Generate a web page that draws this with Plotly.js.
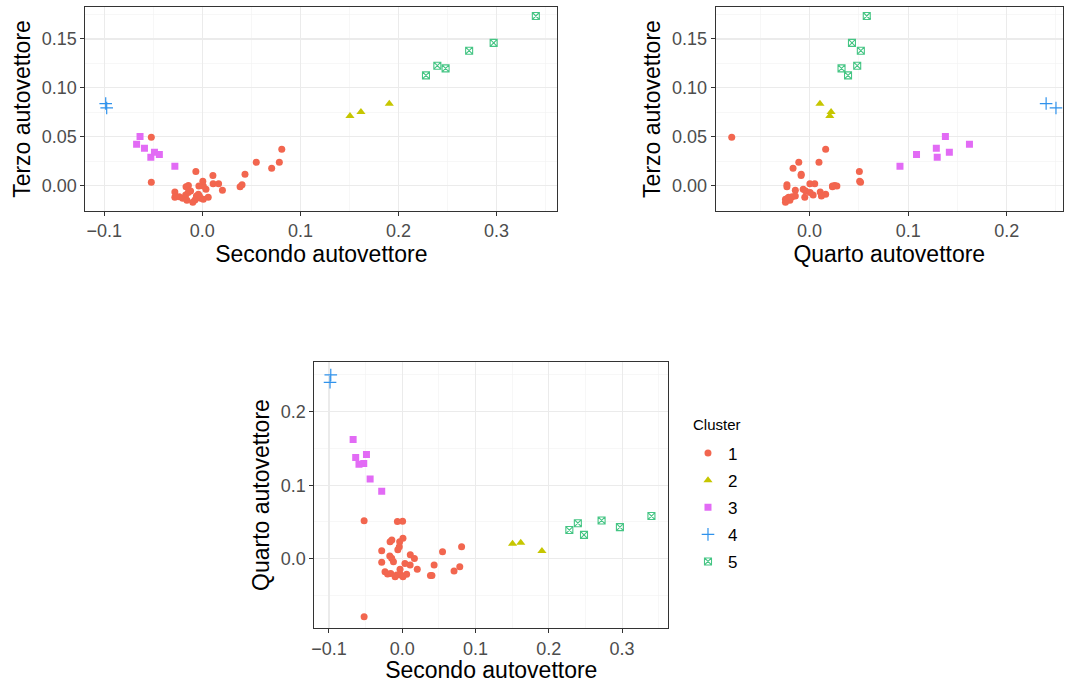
<!DOCTYPE html>
<html>
<head>
<meta charset="utf-8">
<script src="https://cdn.plot.ly/plotly-3.0.1.min.js"></script>
<style>html,body{margin:0;padding:0;background:#fff;}#chart{width:1065px;height:683px;}</style>
</head>
<body>
<div id="chart"></div>
<script>
// Cluster 1
const sec1 = [-0.052, -0.052, 0.081, 0.055, 0.0785, 0.0707, 0.0435, 0.0405, 0.0385, -0.0066, 0.0005, 0.0108, 0.0110, 0.0166, 0.0205, 0.0037,
  -0.028, -0.028, -0.0235, -0.020, -0.0142, -0.0166, -0.0120, -0.0170, -0.0144, -0.0157,
  0.0010, -0.0035, -0.0040, -0.0060, -0.0030, 0.0060, -0.0075, -0.0018, 0.0010, -0.0097];
const ter1 = [0.0494, 0.0034, 0.0372, 0.0239, 0.0239, 0.0177, 0.0116, 0.0010, -0.0010, 0.0145, 0.0045, 0.0105, 0.0020, 0.0020, -0.0048, -0.0036,
  -0.0065, -0.0119, -0.0112, -0.0129, 0.0003, -0.0010, -0.0054, -0.0095, -0.0071, -0.0150,
  -0.0003, -0.0004, -0.0088, -0.0105, -0.0105, -0.0119, -0.0146, -0.0129, -0.0139, -0.0170];
const qua1 = [-0.079, 0.0517, 0.0163, 0.0095, -0.011, -0.0168, -0.0085, -0.0230, -0.0230, 0.0505, 0.0508, -0.0086, 0.0052, 0.0003, -0.0145, -0.0065,
  0.0108, -0.0049, -0.0177, -0.0209, 0.0255, 0.0232, -0.0040, 0.0036, 0.0005, -0.0200,
  0.0277, 0.0232, 0.0163, 0.0120, -0.0145, -0.0213, -0.0222, -0.0222, -0.0245, -0.0245];
// Cluster 2
const sec2 = [0.1505, 0.1617, 0.1906];
const ter2 = [0.0712, 0.0753, 0.0838];
const qua2 = [0.0205, 0.0218, 0.0105];
// Cluster 3
const sec3 = [-0.0670, -0.0635, -0.0590, -0.0488, -0.0438, -0.0525, -0.0280];
const ter3 = [0.0423, 0.0504, 0.0382, 0.0341, 0.0320, 0.0290, 0.0198];
const qua3 = [0.1622, 0.1378, 0.1286, 0.1418, 0.1085, 0.1295, 0.0917];
// Cluster 4
const sec4 = [-0.0985, -0.0975];
const ter4 = [0.0840, 0.0795];
const qua4 = [0.2400, 0.2500];
// Cluster 5
const sec5 = [0.340, 0.297, 0.272, 0.2396, 0.248, 0.228];
const ter5 = [0.1735, 0.146, 0.138, 0.1227, 0.120, 0.1128];
const qua5 = [0.058, 0.043, 0.052, 0.0483, 0.0324, 0.039];

const clusterNames = ['1', '2', '3', '4', '5'];
const secondo = [sec1, sec2, sec3, sec4, sec5];
const terzo = [ter1, ter2, ter3, ter4, ter5];
const quarto = [qua1, qua2, qua3, qua4, qua5];

const colors = ['#F2664F', '#C6C600', '#E26BF5', '#2F92EC', '#45C584'];
const markers = [
  {symbol: 'circle', size: 7},
  {symbol: 'triangle-up', size: 8},
  {symbol: 'square', size: 7},
  {symbol: 'cross-thin-open', size: 9, line: {width: 1.2}},
  {symbol: 'square-x-open', size: 7, line: {width: 1.1}}
];

const traces = [];
const panels = [
  {xs: secondo, ys: terzo, xa: 'x', ya: 'y'},
  {xs: quarto, ys: terzo, xa: 'x2', ya: 'y2'},
  {xs: secondo, ys: quarto, xa: 'x3', ya: 'y3'}
];
panels.forEach((p, pi) => {
  for (let c = 0; c < 5; c++) {
    const m = Object.assign({color: colors[c]}, markers[c]);
    if (m.line) m.line = Object.assign({color: colors[c]}, m.line);
    traces.push({
      type: 'scatter', mode: 'markers',
      x: p.xs[c], y: p.ys[c], xaxis: p.xa, yaxis: p.ya,
      name: clusterNames[c], legendgroup: clusterNames[c],
      showlegend: pi === 0,
      marker: m, hoverinfo: 'skip'
    });
  }
});

const tickFont = {family: 'Liberation Sans, Arial, sans-serif', size: 18, color: '#4d4d4d'};
const titleFont = {family: 'Liberation Sans, Arial, sans-serif', size: 23, color: '#000'};
function ax(extra) {
  return Object.assign({
    showgrid: true, gridcolor: '#ebebeb', gridwidth: 1.2,
    zeroline: false, showline: true, mirror: true, linecolor: '#333333', linewidth: 1,
    ticks: 'outside', ticklen: 4, tickcolor: '#333333', tickwidth: 1,
    tickfont: tickFont, automargin: false
  }, extra);
}

const layout = {
  width: 1065, height: 683,
  margin: {l: 0, r: 0, t: 0, b: 0},
  paper_bgcolor: '#fff', plot_bgcolor: '#fff',
  font: {family: 'Liberation Sans, Arial, sans-serif'},
  showlegend: true,
  legend: {
    x: 0.646, y: 0.3624, xanchor: 'left', yanchor: 'top',
    font: {size: 17, color: '#000'}, tracegroupgap: 2
  },
  annotations: [{
    text: 'Cluster', xref: 'paper', yref: 'paper', x: 0.649, y: 0.378,
    xanchor: 'left', yanchor: 'middle', showarrow: false,
    font: {family: 'Liberation Sans, Arial, sans-serif', size: 15, color: '#000'}
  }],
  xaxis: ax({domain: [0.0801, 0.5233], anchor: 'y', range: [-0.1193, 0.3619], dtick: 0.1, tickformat: '.1f',
    minor: {dtick: 0.05, showgrid: true, gridcolor: '#f2f2f2', gridwidth: 0.6},
    title: {text: 'Secondo autovettore', font: titleFont, standoff: 2}}),
  yaxis: ax({domain: [0.6915, 0.9893], anchor: 'x', range: [-0.0256, 0.1824], dtick: 0.05, tickformat: '.2f',
    minor: {dtick: 0.025, showgrid: true, gridcolor: '#f2f2f2', gridwidth: 0.6},
    title: {text: 'Terzo autovettore', font: titleFont, standoff: 4}}),
  xaxis2: ax({domain: [0.6720, 0.998], anchor: 'y2', range: [-0.0953, 0.257], dtick: 0.1, tickformat: '.1f',
    minor: {dtick: 0.05, showgrid: true, gridcolor: '#f2f2f2', gridwidth: 0.6},
    title: {text: 'Quarto autovettore', font: titleFont, standoff: 2}}),
  yaxis2: ax({domain: [0.6915, 0.9893], anchor: 'x2', range: [-0.0256, 0.1824], dtick: 0.05, tickformat: '.2f',
    minor: {dtick: 0.025, showgrid: true, gridcolor: '#f2f2f2', gridwidth: 0.6},
    title: {text: 'Terzo autovettore', font: titleFont, standoff: 4}}),
  xaxis3: ax({domain: [0.2951, 0.6275], anchor: 'y3', range: [-0.120, 0.363], dtick: 0.1, tickformat: '.1f',
    minor: {dtick: 0.05, showgrid: true, gridcolor: '#f2f2f2', gridwidth: 0.6},
    title: {text: 'Secondo autovettore', font: titleFont, standoff: 2}}),
  yaxis3: ax({domain: [0.0801, 0.4704], anchor: 'x3', range: [-0.0947, 0.268], dtick: 0.1, tickformat: '.1f',
    minor: {dtick: 0.05, showgrid: true, gridcolor: '#f2f2f2', gridwidth: 0.6},
    title: {text: 'Quarto autovettore', font: titleFont, standoff: 4}})
};

Plotly.newPlot('chart', traces, layout, {displayModeBar: false, staticPlot: true});
</script>
</body>
</html>
